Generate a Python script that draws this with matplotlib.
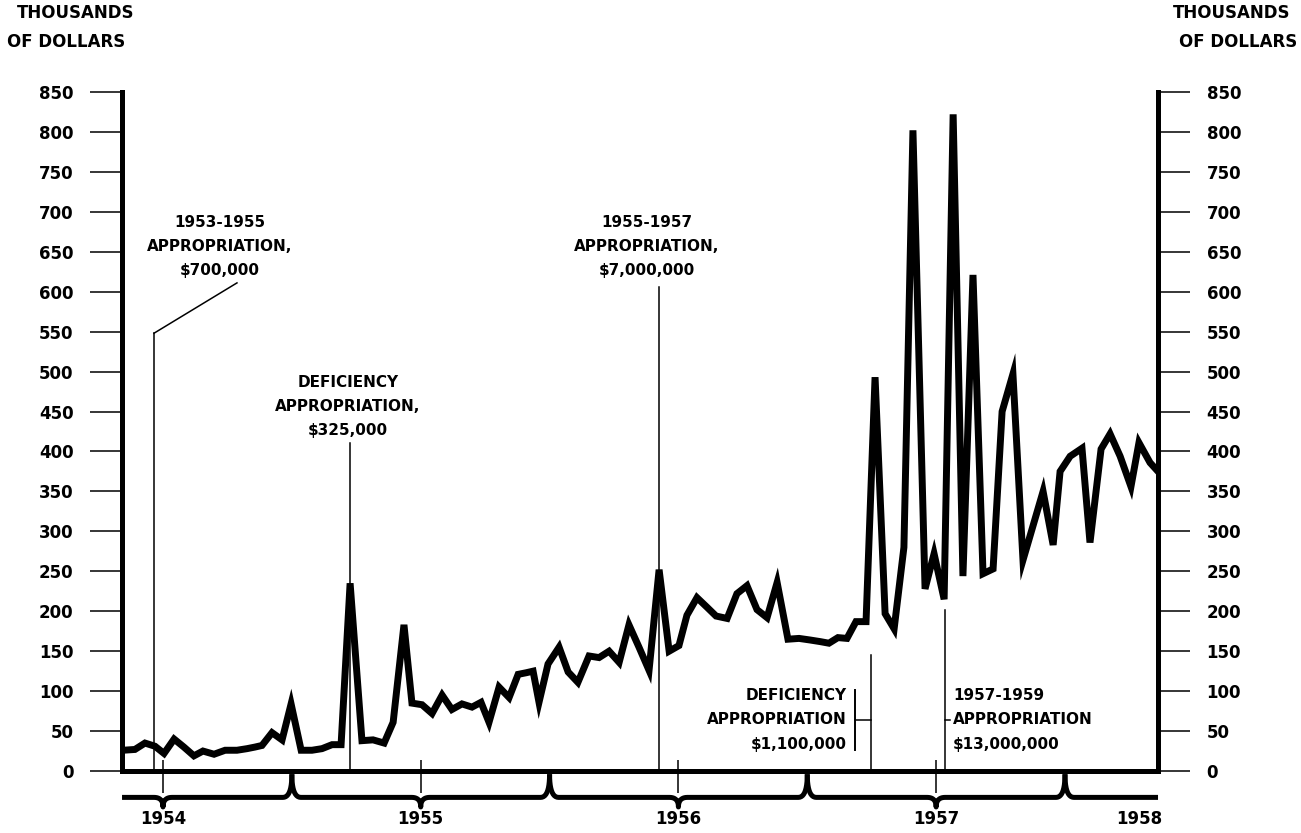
import numpy as np
import matplotlib
matplotlib.use('Agg')
import matplotlib.pyplot as plt

# biweekly periods (decimal years) and outlays in thousands of dollars
period = [1953.845, 1953.891, 1953.930, 1953.969, 1954.004, 1954.043, 1954.081, 1954.120,
          1954.155, 1954.198, 1954.241, 1954.287, 1954.326, 1954.357, 1954.384, 1954.423,
          1954.462, 1954.497, 1954.536, 1954.578, 1954.617, 1954.656, 1954.691, 1954.726,
          1954.772, 1954.815, 1954.858, 1954.893, 1954.935, 1954.966, 1955.005, 1955.044,
          1955.083, 1955.121, 1955.160, 1955.199, 1955.234, 1955.265, 1955.304, 1955.343,
          1955.378, 1955.409, 1955.436, 1955.459, 1955.494, 1955.537, 1955.572, 1955.610,
          1955.653, 1955.692, 1955.731, 1955.770, 1955.808, 1955.847, 1955.886, 1955.925,
          1955.964, 1956.002, 1956.033, 1956.072, 1956.111, 1956.146, 1956.189, 1956.227,
          1956.266, 1956.305, 1956.344, 1956.383, 1956.425, 1956.468, 1956.511, 1956.550,
          1956.584, 1956.619, 1956.654, 1956.689, 1956.728, 1956.763, 1956.802, 1956.837,
          1956.875, 1956.910, 1956.957, 1956.992, 1957.031, 1957.066, 1957.104, 1957.143,
          1957.182, 1957.221, 1957.256, 1957.298, 1957.337, 1957.376, 1957.415, 1957.454,
          1957.481, 1957.520, 1957.566, 1957.597, 1957.640, 1957.675, 1957.714, 1957.756,
          1957.787, 1957.830, 1957.861]
outlays = [26, 27, 35, 31, 22, 40, 30, 19, 25, 21, 26, 26, 28, 30, 32, 48, 39, 84, 26, 26,
           28, 33, 33, 235, 38, 39, 35, 61, 183, 85, 83, 72, 95, 77, 84, 80, 86, 61, 105, 92,
           121, 123, 125, 86, 134, 155, 124, 111, 144, 142, 150, 136, 183, 155, 126, 252, 150,
           157, 195, 217, 205, 194, 191, 222, 232, 202, 192, 236, 165, 166, 164, 162, 160, 167,
           166, 187, 187, 493, 197, 178, 280, 802, 228, 272, 215, 822, 244, 621, 247, 253, 450,
           497, 264, 307, 350, 283, 375, 394, 404, 286, 403, 422, 394, 356, 411, 386, 375]

y_ticks = list(range(0, 851, 50))
year_labels = ['1954', '1955', '1956', '1957', '1958']
year_pos = [1954.0, 1955.0, 1956.0, 1957.0, 1957.79]
fy_bounds = [1954.5, 1955.5, 1956.5, 1957.5]

x_min, x_max = 1953.841, 1957.861

plt.rcParams['font.family'] = ['DejaVu Sans']
plt.rcParams['font.weight'] = 'bold'

fig = plt.figure(figsize=(13.01, 8.33), dpi=100)
ax = fig.add_axes([0.0938, 0.0744, 0.7963, 0.8152])

ax.plot(period, outlays, color='black', lw=5, solid_joinstyle='miter', zorder=3)

ax.set_xlim(x_min, x_max)
ax.set_ylim(0, 850)

# spines
for s in ['left', 'right', 'bottom']:
    ax.spines[s].set_linewidth(3.6)
ax.spines['top'].set_visible(False)

ax.set_yticks(y_ticks)
ax.set_yticklabels([str(v) for v in y_ticks])
ax.tick_params(axis='y', which='both', direction='out', length=23, width=1.1,
               left=True, right=True, labelleft=True, labelright=True,
               labelsize=12, pad=12)
ax.set_xticks([])

# year ticks and fiscal-year braces under the axis
ax.vlines(year_pos[:4], -28, 14, color='black', lw=1.1, clip_on=False)

y_top, y_line, y_tip = -4, -33, -45
d = 0.035


def quad(p0, p1, p2, n=12):
    t = np.linspace(0, 1, n)[:, None]
    p0, p1, p2 = map(np.array, (p0, p1, p2))
    return (1 - t) ** 2 * p0 + 2 * (1 - t) * t * p1 + t ** 2 * p2


def brace(a, b, m=None, curl_a=True, curl_b=True):
    pts = []
    if curl_a:
        pts.append(quad((a, y_top), (a, y_line), (a + d, y_line)))
    else:
        pts.append(np.array([[a, y_line]]))
    if m is not None:
        pts.append(quad((m - d, y_line), (m, y_line), (m, y_tip)))
        pts.append(quad((m, y_tip), (m, y_line), (m + d, y_line)))
    if curl_b:
        pts.append(quad((b - d, y_line), (b, y_line), (b, y_top)))
    else:
        pts.append(np.array([[b, y_line]]))
    pts = np.vstack(pts)
    ax.plot(pts[:, 0], pts[:, 1], color='black', lw=3.6, clip_on=False,
            solid_capstyle='butt')


edges = [x_min] + fy_bounds + [x_max]
for i in range(5):
    tip = year_pos[i] if i < 4 else None
    brace(edges[i], edges[i + 1], tip, curl_a=(i > 0), curl_b=(i < 4))

for lab, xp in zip(year_labels, year_pos):
    ax.text(xp, -49, lab, ha='center', va='top', fontsize=12, fontweight='bold',
            clip_on=False)

# annotations
lw_a = 1.1
txt = dict(fontsize=11, fontweight='bold', clip_on=False)

ax.text(1954.221, 687, '1953-1955', ha='center', va='center', **txt)
ax.text(1954.221, 656, 'APPROPRIATION,', ha='center', va='center', **txt)
ax.text(1954.221, 626, '$700,000', ha='center', va='center', **txt)
ax.plot([1954.287, 1953.965], [611, 548], color='black', lw=lw_a)
ax.plot([1953.965, 1953.965], [548, 0], color='black', lw=lw_a)

ax.text(1954.718, 486, 'DEFICIENCY', ha='center', va='center', **txt)
ax.text(1954.718, 456, 'APPROPRIATION,', ha='center', va='center', **txt)
ax.text(1954.718, 426, '$325,000', ha='center', va='center', **txt)
ax.plot([1954.724, 1954.724], [411, 0], color='black', lw=lw_a)

ax.text(1955.878, 687, '1955-1957', ha='center', va='center', **txt)
ax.text(1955.878, 656, 'APPROPRIATION,', ha='center', va='center', **txt)
ax.text(1955.878, 626, '$7,000,000', ha='center', va='center', **txt)
ax.plot([1955.925, 1955.925], [606, 0], color='black', lw=lw_a)

ax.text(1956.654, 95, 'DEFICIENCY', ha='right', va='center', **txt)
ax.text(1956.654, 64, 'APPROPRIATION', ha='right', va='center', **txt)
ax.text(1956.654, 33, '$1,100,000', ha='right', va='center', **txt)
ax.plot([1956.685, 1956.685], [101, 26], color='black', lw=1.4)
ax.plot([1956.685, 1956.747], [64, 64], color='black', lw=lw_a)
ax.plot([1956.747, 1956.747], [145, 0], color='black', lw=lw_a)

ax.text(1957.066, 95, '1957-1959', ha='left', va='center', **txt)
ax.text(1957.066, 64, 'APPROPRIATION', ha='left', va='center', **txt)
ax.text(1957.066, 33, '$13,000,000', ha='left', va='center', **txt)
ax.plot([1957.035, 1957.035], [202, 0], color='black', lw=lw_a)
ax.plot([1957.035, 1957.052], [64, 64], color='black', lw=lw_a)

# unit labels
fig.text(0.013, 0.984, 'THOUSANDS', ha='left', va='center', fontsize=12, fontweight='bold')
fig.text(0.005, 0.950, 'OF DOLLARS', ha='left', va='center', fontsize=12, fontweight='bold')
fig.text(0.992, 0.984, 'THOUSANDS', ha='right', va='center', fontsize=12, fontweight='bold')
fig.text(0.997, 0.950, 'OF DOLLARS', ha='right', va='center', fontsize=12, fontweight='bold')

fig.savefig('out.png', dpi=100, facecolor='white')
